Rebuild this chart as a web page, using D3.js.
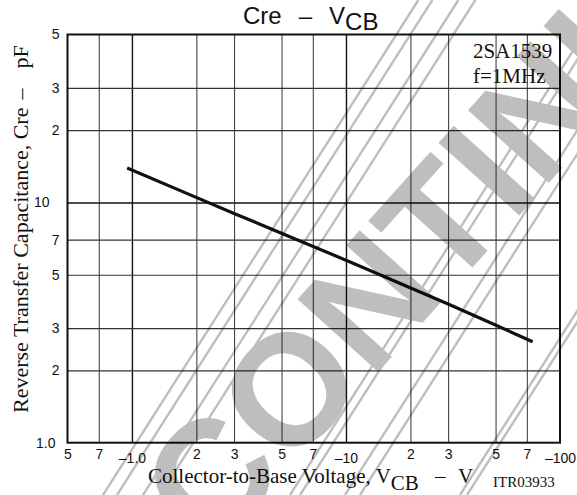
<!DOCTYPE html>
<html>
<head>
<meta charset="utf-8">
<script src="https://cdn.jsdelivr.net/npm/d3@7"></script>
<style>
  body { margin: 0; background: #fff; }
  svg { display: block; }
</style>
</head>
<body>
<div id="chart"></div>
<script>
// Cre - VCB curve (VCB in -V, Cre in pF)
var vcb = [0.95, 3, 10, 30, 74.5];
var cre = [13.9, 9.0, 5.75, 3.78, 2.63];

// tick labels as printed
var xTicks = [0.5, 0.7, 1, 2, 3, 5, 7, 10, 20, 30, 50, 70, 100];
var xTickLabels = ["5", "7", "\u20131.0", "2", "3", "5", "7", "\u201310", "2", "3", "5", "7", "\u2013100"];
var yTicks = [1, 2, 3, 5, 7, 10, 20, 30, 50];
var yTickLabels = ["1.0", "2", "3", "5", "7", "10", "2", "3", "5"];

// stamp lines: where they cross the bottom edge of the picture
var stampLines = [103, 117, 143, 160, 290, 300, 345, 360, 460, 467];

var W = 577, H = 495;
var margin = {top: 34.5, right: 17, bottom: 52.3, left: 67.5},
  width = W - margin.left - margin.right,
  height = H - margin.top - margin.bottom;

var svg = d3.select("#chart")
  .append("svg")
  .attr("width", W)
  .attr("height", H);

var g = svg.append("g")
  .attr("transform", "translate(" + margin.left + "," + margin.top + ")");

var x = d3.scaleLog().domain([0.5, 100]).range([0, width]);
var y = d3.scaleLog().domain([1, 50]).range([height, 0]);

// grid
var inner = function(v, arr) { return v !== arr[0] && v !== arr[arr.length - 1]; };
g.append("g")
  .attr("class", "xgrid")
  .attr("transform", "translate(0," + height + ")")
  .call(d3.axisBottom(x).tickValues(xTicks.filter(function(v) { return inner(v, xTicks); }))
    .tickSize(-height).tickFormat(""))
  .call(function(a) { a.select(".domain").remove(); })
  .selectAll("line")
  .attr("stroke", function(d) { return (d === 1 || d === 10) ? "#111" : "#444"; })
  .attr("stroke-width", function(d) { return (d === 1 || d === 10) ? 1.4 : 1.1; });

g.append("g")
  .attr("class", "ygrid")
  .call(d3.axisLeft(y).tickValues(yTicks.filter(function(v) { return inner(v, yTicks); }))
    .tickSize(-width).tickFormat(""))
  .call(function(a) { a.select(".domain").remove(); })
  .selectAll("line")
  .attr("stroke", function(d) { return d === 10 ? "#111" : "#333"; })
  .attr("stroke-width", function(d) { return d === 10 ? 1.5 : 1.2; });

// axis labels
var xa = g.append("g")
  .attr("transform", "translate(0," + height + ")")
  .call(d3.axisBottom(x).tickValues(xTicks).tickSize(0)
    .tickFormat(function(d, i) { return xTickLabels[i]; }));
xa.select(".domain").remove();
xa.selectAll("text")
  .attr("font-family", "Liberation Sans, Arial, sans-serif")
  .attr("font-size", 14)
  .attr("fill", "#111")
  .attr("y", function(d, i) { return xTickLabels[i].charAt(0) === "\u2013" ? 10 : 6; });

var ya = g.append("g")
  .call(d3.axisLeft(y).tickValues(yTicks).tickSize(0)
    .tickFormat(function(d, i) { return yTickLabels[i]; }));
ya.select(".domain").remove();
ya.selectAll("text")
  .attr("font-family", "Liberation Sans, Arial, sans-serif")
  .attr("font-size", 14)
  .attr("fill", "#111")
  .attr("x", function(d) { return d === 10 ? -18 : (d === 1 ? -12 : -8); });

// curve
var line = d3.line()
  .x(function(d) { return x(d[0]); })
  .y(function(d) { return y(d[1]); })
  .curve(d3.curveCatmullRom.alpha(0.5));

g.append("path")
  .datum(d3.zip(vcb, cre))
  .attr("fill", "none")
  .attr("stroke", "#111")
  .attr("stroke-width", 3.2)
  .attr("d", line);

// frame
g.append("rect")
  .attr("width", width)
  .attr("height", height)
  .attr("fill", "none")
  .attr("stroke", "#111")
  .attr("stroke-width", 2);

// annotation box text
var note = g.append("text")
  .attr("font-family", "Liberation Serif, Times New Roman, serif")
  .attr("font-size", 21)
  .attr("fill", "#111");
note.append("tspan").attr("x", 405.5).attr("y", 23.8).text("2SA1539");
note.append("tspan").attr("x", 405.5).attr("y", 48.8).text("f=1MHz");

// title
var title = svg.append("text")
  .attr("x", 243)
  .attr("y", 24)
  .attr("font-family", "Liberation Sans, Arial, sans-serif")
  .attr("font-size", 24)
  .attr("fill", "#111");
title.append("tspan").text("Cre");
title.append("tspan").attr("dx", 17).text("\u2013");
title.append("tspan").attr("dx", 17).text("V");
title.append("tspan").attr("dy", 6).text("CB");

// x axis title
var xt = svg.append("text")
  .attr("x", 148)
  .attr("y", 483)
  .attr("font-family", "Liberation Serif, Times New Roman, serif")
  .attr("font-size", 21)
  .attr("fill", "#111");
xt.append("tspan").text("Collector-to-Base Voltage, V");
xt.append("tspan").attr("dy", 7).text("CB");
xt.append("tspan").attr("dy", -7).attr("x", 435).text("\u2013");
xt.append("tspan").attr("x", 458).text("V");

svg.append("text")
  .attr("x", 493)
  .attr("y", 486.5)
  .attr("font-family", "Liberation Serif, Times New Roman, serif")
  .attr("font-size", 15)
  .attr("fill", "#111")
  .text("ITR03933");

// y axis title
var yt = svg.append("text")
  .attr("transform", "translate(28,413) rotate(-90)")
  .attr("font-family", "Liberation Serif, Times New Roman, serif")
  .attr("font-size", 22)
  .attr("fill", "#111");
yt.append("tspan").text("Reverse Transfer Capacitance, Cre");
yt.append("tspan").attr("dx", 8).text("\u2013");
yt.append("tspan").attr("dx", 20).text("pF");

// DISCONTINUED stamp over the chart
var stamp = svg.append("g").attr("opacity", 0.25);
var slope = Math.tan(57.5 * Math.PI / 180);
stampLines.forEach(function(x0) {
  stamp.append("line")
    .attr("x1", x0).attr("y1", H)
    .attr("x2", x0 + H / slope).attr("y2", 0)
    .attr("stroke", "#000")
    .attr("stroke-width", 2.4);
});
stamp.append("text")
  .attr("transform", "translate(398,268) rotate(-48)")
  .attr("text-anchor", "middle")
  .attr("dominant-baseline", "central")
  .attr("font-family", "Liberation Sans, Arial, sans-serif")
  .attr("font-weight", "bold")
  .attr("font-size", 158)
  .attr("fill", "#000")
  .text("DISCONTINUED");
</script>
</body>
</html>
